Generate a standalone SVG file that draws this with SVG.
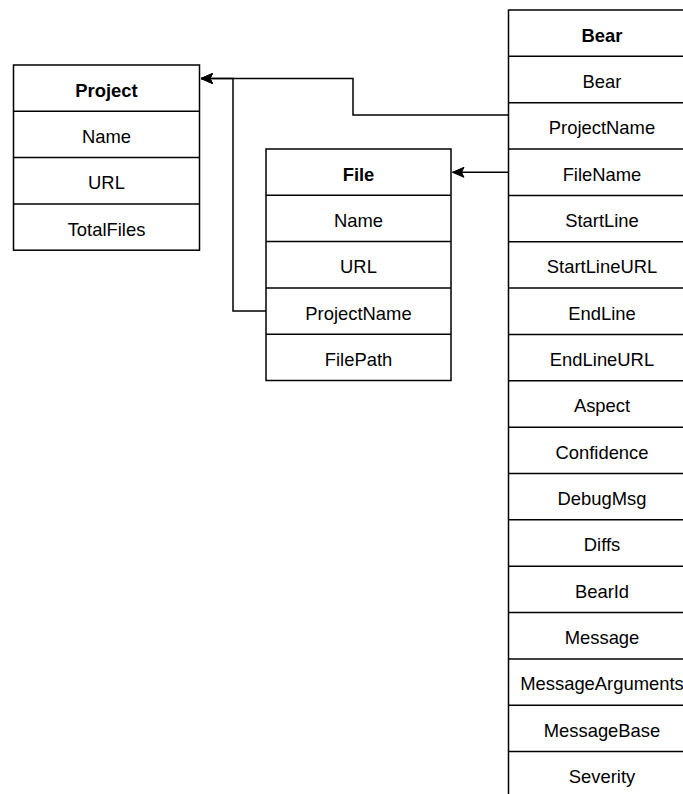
<svg xmlns="http://www.w3.org/2000/svg" width="683" height="794" viewBox="0 0 683 794">
<defs>
<style>
.box{fill:#fff;stroke:#000;stroke-width:1.5}
.sep{stroke:#000;stroke-width:1.5}
text{font-family:"Liberation Sans",Arial,Helvetica,sans-serif;font-size:18.4px;fill:#000;text-anchor:middle;dominant-baseline:central}
.hd{font-weight:bold}
.edge{fill:none;stroke:#000;stroke-width:1.5}
</style>
<marker id="arr" markerUnits="userSpaceOnUse" markerWidth="14" markerHeight="14" viewBox="0 0 14 14" refX="12.5" refY="7" orient="auto">
<path d="M1,2 L12.5,7 L1,12 L3.5,7 Z" fill="#000" stroke="#000" stroke-width="1"/>
</marker>
</defs>
<rect width="683" height="794" fill="#fff"/>
<g id="connectors">
<path class="edge" d="M508.5,115 H353 V78.5 H201" marker-end="url(#arr)"/>
<path class="edge" d="M266,311 H233 V78.5 H201" marker-end="url(#arr)"/>
<path class="edge" d="M508.5,172.3 H452.5" marker-end="url(#arr)"/>
</g>
<g id="project">
<rect class="box" x="13.5" y="65" width="186" height="185.2"/>
<line class="sep" x1="13.5" y1="111.3" x2="199.5" y2="111.3"/>
<line class="sep" x1="13.5" y1="157.6" x2="199.5" y2="157.6"/>
<line class="sep" x1="13.5" y1="203.9" x2="199.5" y2="203.9"/>
<text class="hd" x="106.5" y="90.3">Project</text>
<text x="106.5" y="136.6">Name</text>
<text x="106.5" y="182.9">URL</text>
<text x="106.5" y="229.2">TotalFiles</text>
</g>
<g id="file">
<rect class="box" x="266" y="149" width="185" height="231.5"/>
<line class="sep" x1="266" y1="195.3" x2="451" y2="195.3"/>
<line class="sep" x1="266" y1="241.6" x2="451" y2="241.6"/>
<line class="sep" x1="266" y1="287.9" x2="451" y2="287.9"/>
<line class="sep" x1="266" y1="334.2" x2="451" y2="334.2"/>
<text class="hd" x="358.5" y="174.3">File</text>
<text x="358.5" y="220.6">Name</text>
<text x="358.5" y="266.9">URL</text>
<text x="358.5" y="313.2">ProjectName</text>
<text x="358.5" y="359.5">FilePath</text>
</g>
<g id="bear">
<rect class="box" x="508.5" y="10" width="187" height="788"/>
<line class="sep" x1="508.5" y1="56.35" x2="695.5" y2="56.35"/>
<line class="sep" x1="508.5" y1="102.7" x2="695.5" y2="102.7"/>
<line class="sep" x1="508.5" y1="149.05" x2="695.5" y2="149.05"/>
<line class="sep" x1="508.5" y1="195.4" x2="695.5" y2="195.4"/>
<line class="sep" x1="508.5" y1="241.75" x2="695.5" y2="241.75"/>
<line class="sep" x1="508.5" y1="288.1" x2="695.5" y2="288.1"/>
<line class="sep" x1="508.5" y1="334.45" x2="695.5" y2="334.45"/>
<line class="sep" x1="508.5" y1="380.8" x2="695.5" y2="380.8"/>
<line class="sep" x1="508.5" y1="427.15" x2="695.5" y2="427.15"/>
<line class="sep" x1="508.5" y1="473.5" x2="695.5" y2="473.5"/>
<line class="sep" x1="508.5" y1="519.85" x2="695.5" y2="519.85"/>
<line class="sep" x1="508.5" y1="566.2" x2="695.5" y2="566.2"/>
<line class="sep" x1="508.5" y1="612.55" x2="695.5" y2="612.55"/>
<line class="sep" x1="508.5" y1="658.9" x2="695.5" y2="658.9"/>
<line class="sep" x1="508.5" y1="705.25" x2="695.5" y2="705.25"/>
<line class="sep" x1="508.5" y1="751.6" x2="695.5" y2="751.6"/>
<text class="hd" x="602" y="35">Bear</text>
<text x="602" y="81.3">Bear</text>
<text x="602" y="127.7">ProjectName</text>
<text x="602" y="174">FileName</text>
<text x="602" y="220.4">StartLine</text>
<text x="602" y="266.7">StartLineURL</text>
<text x="602" y="313.1">EndLine</text>
<text x="602" y="359.4">EndLineURL</text>
<text x="602" y="405.8">Aspect</text>
<text x="602" y="452.1">Confidence</text>
<text x="602" y="498.5">DebugMsg</text>
<text x="602" y="544.8">Diffs</text>
<text x="602" y="591.2">BearId</text>
<text x="602" y="637.5">Message</text>
<text x="602" y="683.9">MessageArguments</text>
<text x="602" y="730.2">MessageBase</text>
<text x="602" y="776.6">Severity</text>
</g>
</svg>
